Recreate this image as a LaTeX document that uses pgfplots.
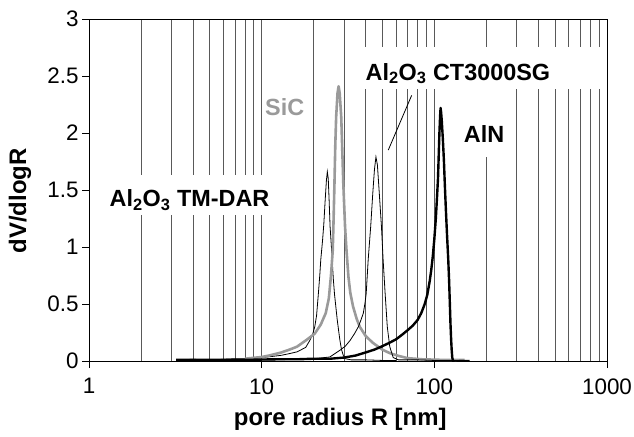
\documentclass[border=0pt]{standalone}
\usepackage{fontspec}
\setmainfont{Liberation Sans}
\usepackage{pgfplots}
\pgfplotsset{compat=1.18}
\definecolor{sicgray}{HTML}{9A9A9A}

% pore size distributions
\pgfplotstableread{
x y
3.2 0.01
4 0.015
5 0.01
6 0.015
7 0.02
8 0.02
9 0.025
10 0.03
11.5 0.04
13 0.05
14.5 0.065
16 0.08
17 0.1
18 0.12
19 0.18
19.7 0.23
20.3 0.3
20.8 0.4
21.3 0.59
21.7 0.75
22.0 0.89
22.5 1.05
22.9 1.2
23.3 1.4
23.7 1.58
24.0 1.66
24.3 1.6
24.6 1.4
24.9 1.18
25.3 1.02
25.6 0.89
26.0 0.72
26.4 0.59
27.0 0.45
27.4 0.36
28.0 0.25
28.4 0.18
29.0 0.1
29.7 0.05
30.5 0.02
33 0.01
40 0.01
50 0.005
60 0.005
}\tmdar

\pgfplotstableread{
x y
8 0.02
10 0.035
11.2 0.05
13 0.075
14.5 0.1
16 0.125
18 0.18
20.3 0.24
22 0.32
23.5 0.42
24.5 0.55
25.2 0.75
25.8 0.97
26.1 1.25
26.4 1.56
26.7 1.9
27.0 2.14
27.5 2.35
27.9 2.41
28.3 2.35
28.9 2.14
29.3 1.85
29.7 1.56
30.4 1.18
31.0 0.97
31.8 0.74
32.6 0.6
33.8 0.48
35.5 0.37
37 0.30
40 0.22
44 0.16
50 0.1
55 0.07
62 0.045
70 0.025
85 0.015
110 0.01
150 0.01
}\sic

\pgfplotstableread{
x y
3.2 0.0
5 0.005
8 0.01
12 0.01
16 0.015
20 0.02
24.8 0.035
28.5 0.096
30.5 0.13
32.5 0.18
34.5 0.24
36.3 0.30
37.6 0.36
38.8 0.42
39.6 0.5
40.3 0.59
41.4 0.89
42.8 1.18
44.0 1.47
45.0 1.68
45.9 1.79
46.8 1.72
48.0 1.47
49.4 1.18
50.5 0.89
51.9 0.59
53.4 0.30
55.2 0.125
57.8 0.03
62 0.01
80 0.01
100 0.005
150 0.005
}\ctsg

\pgfplotstableread{
x y
3.2 0.01
5 0.01
8 0.01
12 0.015
16 0.015
20 0.02
25 0.02
30 0.03
35 0.048
40 0.075
45 0.1
50 0.13
55 0.16
60 0.19
65 0.23
70 0.27
75 0.31
80 0.36
84 0.42
88 0.5
91 0.58
94 0.7
96 0.8
98 0.92
100 1.07
102 1.25
103.5 1.42
105 1.6
106 1.8
107 2.0
108 2.15
108.7 2.22
109.5 2.18
110.5 2.1
112 1.95
113.6 1.76
115 1.55
116.7 1.32
118.5 1.1
120.4 0.89
121.8 0.7
123 0.5
124 0.33
125 0.2
126 0.1
127 0.03
129 -0.01
131 -0.02
135 -0.015
140 0.0
160 0.0
}\aln

\begin{document}
\begin{tikzpicture}
\begin{axis}[
    scale only axis,
    width=518bp, height=342bp,
    xmode=log, xmin=1, xmax=1000,
    ymin=0, ymax=3,
    ytick={0,0.5,...,3},
    xtick={1,10,100,1000},
    xticklabels={1,10,100,1000},
    minor xtick={2,3,...,9,20,30,...,90,200,300,...,900},
    xmajorgrids, xminorgrids,
    grid style={black!65, line width=0.55bp},
    minor tick length=0pt,
    major tick length=7bp,
    tick align=outside,
    xtick pos=bottom, ytick pos=left,
    tick style={black, line width=0.7bp},
    axis line style={line width=0.8bp},
    ticklabel style={font=\fontsize{22.5}{26}\selectfont},
    xticklabel style={yshift=-7bp},
    /pgf/number format/assume math mode=true,
    xlabel={pore radius R [nm]},
    ylabel={dV/dlogR},
    label style={font=\bfseries\fontsize{24}{28}\selectfont},
    xlabel style={at={(rel axis cs:0.485,0)}, anchor=center, yshift=-58bp},
    ylabel style={at={(rel axis cs:0,0.468)}, anchor=center, yshift=69bp},
    clip=true,
]
\addplot[black, line width=0.8bp] table {\tmdar};
\addplot[sicgray, line width=2.6bp, line join=round] table {\sic};
\addplot[black, line width=0.8bp] table {\ctsg};
\addplot[black, line width=2.4bp, line join=round] table {\aln};

% labels with white boxes
\fill[white] (axis cs:1.16,1.28) rectangle (axis cs:11.9,1.63);
\node[font=\bfseries\fontsize{23.5}{27}\selectfont] at (axis cs:3.82,1.41) {Al\textsubscript{2}O\textsubscript{3} TM-DAR};
\fill[white] (axis cs:32.5,2.39) rectangle (axis cs:972,2.75);
\node[font=\bfseries\fontsize{23.5}{27}\selectfont] at (axis cs:137,2.52) {Al\textsubscript{2}O\textsubscript{3} CT3000SG};
\fill[white] (axis cs:126.5,1.79) rectangle (axis cs:281,2.39);
\node[font=\bfseries\fontsize{23.5}{27}\selectfont] at (axis cs:194,1.99) {AlN};
\node[font=\bfseries\fontsize{23.5}{27}\selectfont, text=sicgray] at (axis cs:13.6,2.23) {SiC};
\draw[black, line width=0.8bp] (axis cs:73.9,2.33) -- (axis cs:54.1,1.85);

\coordinate (sw) at (rel axis cs:0,0);
\coordinate (ne) at (rel axis cs:1,1);
\end{axis}
\pgfresetboundingbox
\path ([shift={(-89bp,-76bp)}]sw) rectangle ([shift={(27bp,19bp)}]ne);
\end{tikzpicture}
\end{document}
